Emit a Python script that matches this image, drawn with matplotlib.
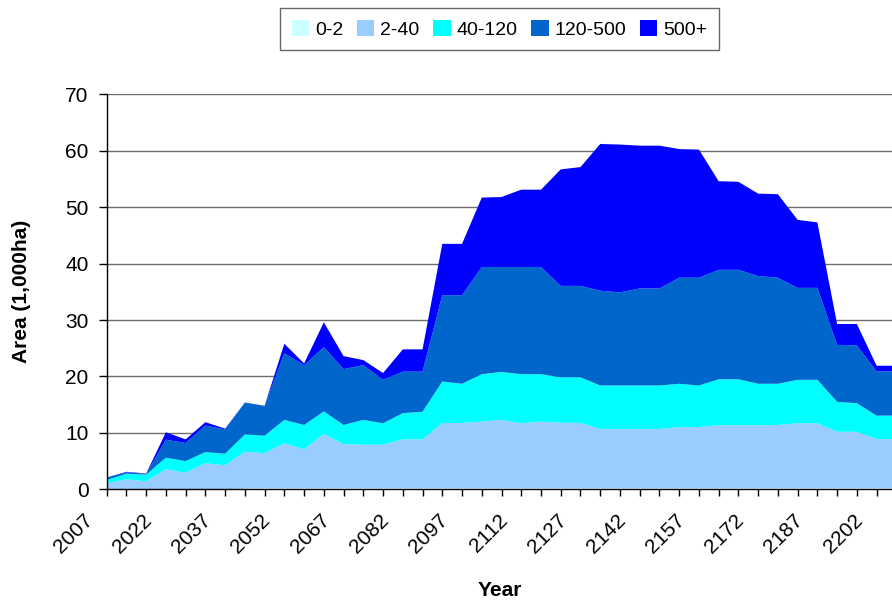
import numpy as np
import matplotlib
matplotlib.use('Agg')
import matplotlib.pyplot as plt
from matplotlib.transforms import ScaledTranslation

plt.rcParams['font.family'] = ['Liberation Sans', 'DejaVu Sans']

years = list(range(2007, 2208, 5))

area_0_2 = [0, 0, 0, 0, 0, 0, 0, 0.15, 0.2, 0.2, 0.2, 0.2, 0.2, 0.2, 0.2, 0.2, 0.2,
            0.2, 0.2, 0.2, 0.2, 0.2, 0.2, 0.2, 0.2, 0.2, 0.2, 0.2, 0.2, 0.2, 0.2,
            0.2, 0.2, 0.2, 0.2, 0.2, 0.2, 0.2, 0.2, 0.2, 0.2]
area_2_40 = [1.06, 1.77, 1.42, 3.55, 2.95, 4.6, 4.25, 6.5, 6.2, 7.95, 6.9, 9.6, 7.8,
             7.7, 7.7, 8.65, 8.65, 11.55, 11.55, 11.8, 12.1, 11.5, 11.8, 11.6, 11.55,
             10.5, 10.5, 10.5, 10.5, 10.8, 10.85, 11.15, 11.15, 11.15, 11.2, 11.5,
             11.5, 10.0, 10.0, 8.7, 8.7]
area_40_120 = [0.59, 1.0, 1.18, 2.05, 2.05, 2.0, 2.05, 3.08, 3.1, 4.15, 4.3, 4.0, 3.4,
               4.4, 3.8, 4.65, 4.9, 7.35, 6.95, 8.4, 8.5, 8.7, 8.4, 8.05, 8.1, 7.7,
               7.7, 7.7, 7.7, 7.7, 7.35, 8.15, 8.15, 7.35, 7.3, 7.7, 7.7, 5.3, 5.05,
               4.15, 4.15]
area_120_500 = [0.41, 0.23, 0.15, 3.2, 3.2, 4.7, 4.3, 5.65, 5.3, 11.8, 10.6, 11.4, 9.9,
                9.7, 7.7, 7.35, 7.1, 15.3, 15.7, 19.0, 18.6, 19.0, 19.0, 16.2, 16.2,
                16.8, 16.5, 17.2, 17.2, 18.8, 19.1, 19.4, 19.4, 19.1, 18.8, 16.3, 16.3,
                10.1, 10.25, 7.85, 7.85]
area_500 = [0.04, 0.1, 0.05, 1.3, 0.65, 0.6, 0.15, 0.0, 0.0, 1.7, 0.3, 4.4, 2.3, 0.9,
            1.2, 3.95, 3.95, 9.1, 9.1, 12.3, 12.4, 13.7, 13.7, 20.65, 21.05, 26.0,
            26.2, 25.3, 25.3, 22.8, 22.7, 15.7, 15.6, 14.6, 14.8, 12.05, 11.6, 3.7,
            3.8, 1.0, 1.0]

labels = ['0-2', '2-40', '40-120', '120-500', '500+']
colors = ['#CCFFFF', '#99CCFF', '#00FFFF', '#0066CC', '#0000FF']
label_years = years[:40:3]

fig = plt.figure(figsize=(8.92, 6.0), dpi=100)
ax = fig.add_axes([0.1196, 0.1845, 0.8804, 0.6583])

ax.stackplot(years, area_0_2, area_2_40, area_40_120, area_120_500, area_500,
             labels=labels, colors=colors, linewidth=0)

ax.set_xlim(2007, 2205.9)
ax.set_ylim(0, 70)
ax.set_yticks(range(0, 71, 10))
ax.set_xticks(years[:40])
ax.set_xticklabels([])

# rotated year labels, shifted down-left like the original
offset = ScaledTranslation(-0.17, -0.28, fig.dpi_scale_trans)
for y in label_years:
    ax.text(y, 0, str(y), transform=ax.get_xaxis_transform() + offset,
            rotation=45, ha='right', va='center', rotation_mode='anchor',
            fontsize=15)

ax.tick_params(axis='y', labelsize=15, length=6, width=1, pad=7)
ax.tick_params(axis='x', length=5, width=1)

ax.set_axisbelow(True)
ax.grid(axis='y', color='#6e6e6e', linewidth=1)
for s in ['top', 'right']:
    ax.spines[s].set_visible(False)
for s in ['left', 'bottom']:
    ax.spines[s].set_color('black')
    ax.spines[s].set_linewidth(1)
    ax.spines[s].set_zorder(5)

ax.set_xlabel('Year', fontsize=15, fontweight='bold')
ax.xaxis.set_label_coords(0.5, -0.233)
ax.xaxis.label.set_va('top')
ax.set_ylabel('Area (1,000ha)', fontsize=15, fontweight='bold')
ax.yaxis.set_label_coords(-0.108, 0.5)
ax.yaxis.label.set_va('center')

leg = fig.legend(loc='center', bbox_to_anchor=(0.56, 0.951), ncol=5, fontsize=14,
                 frameon=True, fancybox=False, edgecolor='#404040',
                 handlelength=0.9, handleheight=0.9, handletextpad=0.3,
                 columnspacing=0.7, borderpad=0.6)
leg.get_frame().set_linewidth(1)

fig.savefig('out.png', dpi=100)
